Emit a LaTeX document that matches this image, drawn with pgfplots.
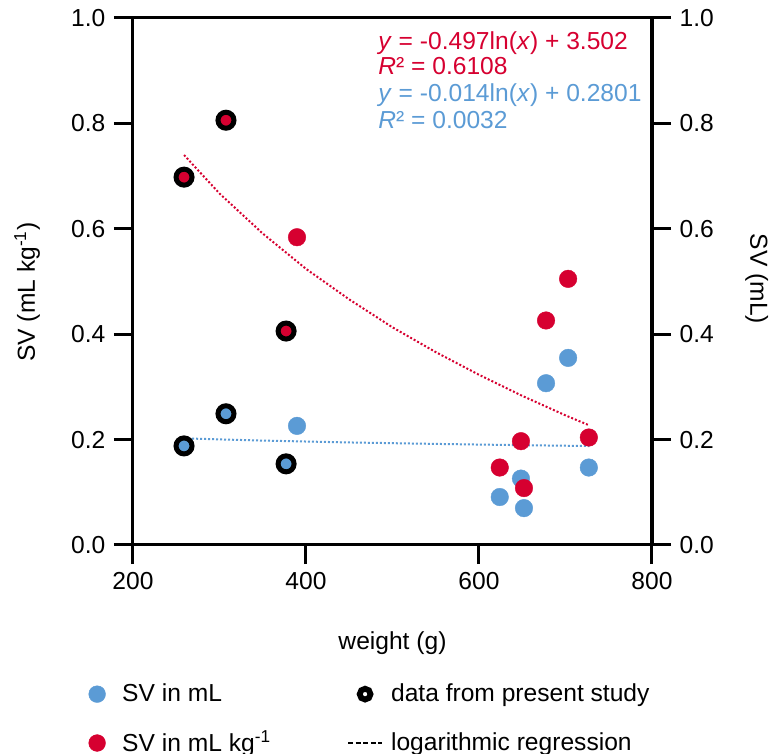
\documentclass[border=0pt]{standalone}
\usepackage{fontspec}
\setmainfont{Liberation Sans}
\usepackage{pgfplots}
\pgfplotsset{compat=1.18}
\definecolor{svred}{RGB}{214,0,48}
\definecolor{svblue}{RGB}{91,155,213}

\pgfplotstableread{
w      svkg   svml
259    0.698  0.188
307.5  0.806  0.249
377    0.406  0.154
389.6  0.584  0.226
624    0.147  0.091
648.5  0.197  0.126
652    0.108  0.070
677.5  0.426  0.307
703    0.505  0.355
727    0.204  0.147
}\svdata

\begin{document}
\fontsize{12.3}{14.5}\selectfont
\begin{tikzpicture}
\pgfplotsset{
  common/.style={
    at={(0,0)}, anchor=south west,
    scale only axis, width=259.5pt, height=263.5pt,
    xmin=200, xmax=800, ymin=0, ymax=1,
    xtick={200,400,600,800},
    ytick={0,0.2,0.4,0.6,0.8,1.0},
    tick align=outside,
    major tick length=9.5pt,
    every tick/.style={black, line width=1.5pt},
    axis line style={line width=1.5pt},
    yticklabel style={/pgf/number format/.cd, fixed, fixed zerofill, precision=1},
    /pgf/number format/assume math mode=true,
    tick label style={font=\fontsize{12.3}{14}\selectfont},
    label style={font=\fontsize{12.3}{14}\selectfont},
  },
  markimg/.style={legend image code/.code={
    \path[draw=none, fill=none] (0cm,0cm) (0.6cm,0cm);
    \draw[##1] plot coordinates {(0.3cm,0cm)};}},
}
\begin{axis}[
  common,
  xtick pos=bottom, ytick pos=left,
  xlabel={weight (g)},
  ylabel={SV (mL kg\textsuperscript{-1})},
  xlabel style={at={(axis description cs:0.5,-0.186)}, anchor=center},
  ylabel style={at={(axis description cs:-0.204,0.48)}, anchor=center},
  legend columns=2,
  legend cell align=left,
  legend style={at={(axis description cs:-0.102,-0.255)}, anchor=north west,
    draw=none, fill=none, inner sep=0pt, outer sep=0pt,
    font=\fontsize{12.3}{14}\selectfont, row sep=9pt,
    /tikz/every odd column/.append style={column sep=2pt},
    /tikz/every even column/.append style={column sep=36pt}},
]
\addplot[svblue, only marks, mark=*, mark size=4.4pt, mark options={line width=0.2pt, draw=svblue, fill=svblue}, forget plot] table[x=w, y=svml] {\svdata};
\addplot[svred, only marks, mark=*, mark size=4.4pt, mark options={line width=0.2pt, draw=svred, fill=svred}, forget plot] table[x=w, y=svkg] {\svdata};
% present study rings
\addplot[black, only marks, mark=o, mark size=4pt, mark options={line width=2.5pt, draw=black}, forget plot] coordinates {
(259,0.698) (307.5,0.806) (377,0.406) (259,0.188) (307.5,0.249) (377,0.154)};
% logarithmic regressions
\addplot[svred, line width=1pt, dash pattern=on 1pt off 1pt, forget plot] coordinates {
(259,0.740) (300,0.667) (350,0.591) (400,0.524) (450,0.466) (500,0.413) (550,0.366) (600,0.323) (650,0.283) (700,0.246) (727.5,0.227)};
\addplot[svblue, line width=1pt, dash pattern=on 1pt off 1pt, forget plot] coordinates {
(259,0.2023) (350,0.1981) (450,0.1946) (550,0.1918) (650,0.1894) (727.5,0.1878)};

\node[anchor=base west, text=svred, inner sep=0pt] at (axis cs:483.2,0.941) {\textit{y} = -0.497ln(\textit{x}) + 3.502};
\node[anchor=base west, text=svred, inner sep=0pt] at (axis cs:483.2,0.892) {\textit{R}² = 0.6108};
\node[anchor=base west, text=svblue, inner sep=0pt] at (axis cs:483.2,0.841) {\textit{y} = -0.014ln(\textit{x}) + 0.2801};
\node[anchor=base west, text=svblue, inner sep=0pt] at (axis cs:483.2,0.791) {\textit{R}² = 0.0032};

\addlegendimage{markimg, svblue, only marks, mark=*, mark size=4.2pt, mark options={line width=0.2pt, draw=svblue, fill=svblue}}
\addlegendentry{SV in mL}
\addlegendimage{markimg, black, only marks, mark=o, mark size=2.7pt, mark options={line width=2.9pt, draw=black}}
\addlegendentry{data from present study}
\addlegendimage{markimg, svred, only marks, mark=*, mark size=4.2pt, mark options={line width=0.2pt, draw=svred, fill=svred}}
\addlegendentry{SV in mL kg\textsuperscript{-1}}
\addlegendimage{black, line width=0.9pt, dash pattern=on 2.6pt off 1.2pt}
\addlegendentry{logarithmic regression}
\end{axis}
\begin{axis}[
  common,
  axis x line=none, axis y line*=right,
  ylabel={SV (mL)},
  ylabel style={at={(axis description cs:1.202,0.505)}, anchor=center, rotate=180},
]
\end{axis}
\pgfresetboundingbox
\path (-66.5pt,-104.5pt) rectangle (319.5pt,272.5pt);
\end{tikzpicture}
\end{document}
